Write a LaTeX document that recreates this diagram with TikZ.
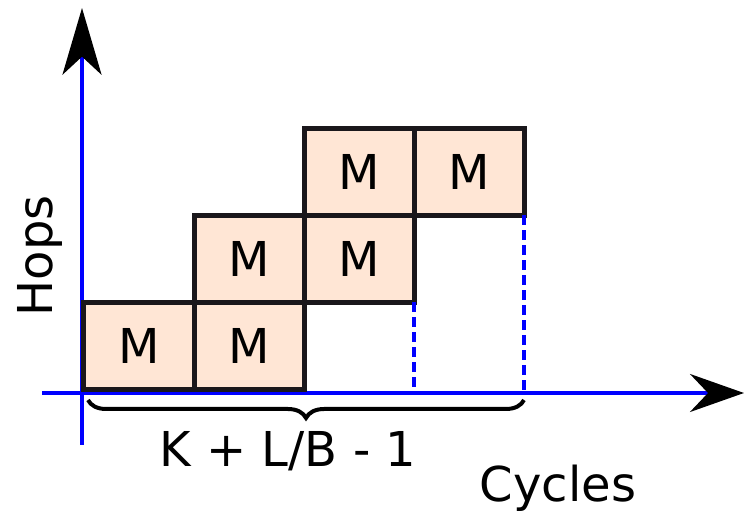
\documentclass[tikz,border=0pt]{standalone}
\usepackage{fontspec}
\setmainfont{DejaVu Sans}
\usepackage{tikz}
\usetikzlibrary{arrows.meta,positioning,decorations.pathreplacing}

\definecolor{peach}{RGB}{255,230,213}
\definecolor{axisblue}{RGB}{0,0,255}
\definecolor{edge}{RGB}{26,23,27}

\begin{document}
\begin{tikzpicture}[
        x=0.03cm, y=-0.03cm,
        node distance=0pt and 0pt,
        mbox/.style={draw=edge, fill=peach, line width=0.15cm, outer sep=0pt, inner sep=0pt,
            minimum width=3.3cm, minimum height=2.61cm, font=\fontsize{41}{48}\selectfont},
        axis/.style={draw=axisblue, line width=0.1cm},
        guide/.style={draw=axisblue, line width=0.1cm, dash pattern=on 0.3cm off 0.15cm},
        lbl/.style={font=\fontsize{41}{48}\selectfont, inner sep=0pt, anchor=base}
    ]
        \useasboundingbox (0,0) rectangle (746,514);

        \coordinate (o) at (82,393);
        \coordinate (xend) at (744,393);
        \coordinate (yend) at (82,8);

        % axes
        \draw[axis, -{Stealth[black, length=1.62cm, width=1.14cm, inset=0.54cm]}] (42,393) -- (xend);
        \draw[axis, -{Stealth[black, length=2cm, width=1.17cm, inset=0.54cm]}] (82,445) -- (yend);

        % staircase of M blocks
        \node[mbox] (m11) at (139,346) {M};
        \node[mbox, right=of m11] (m12) {M};
        \node[mbox, above=of m12] (m21) {M};
        \node[mbox, right=of m21] (m22) {M};
        \node[mbox, above=of m22] (m31) {M};
        \node[mbox, right=of m31] (m32) {M};

        \draw[guide] (m22.south east) -- (m22.south east |- o);
        \draw[guide] (m32.south east) -- (m32.south east |- o);

        % brace
        \coordinate (bl) at (88,400);
        \coordinate (br) at (m32.south east |- bl);
        \draw[line width=0.12cm, decorate, decoration={brace, mirror, amplitude=0.54cm}] (bl) -- (br);

        \node[lbl] (span) at (288,467) {K + L/B - 1};
        \node[lbl] (cycles) at (558,502) {Cycles};
        \node[lbl, rotate=90] (hops) at (52,256) {Hops};
    \end{tikzpicture}
\end{document}
